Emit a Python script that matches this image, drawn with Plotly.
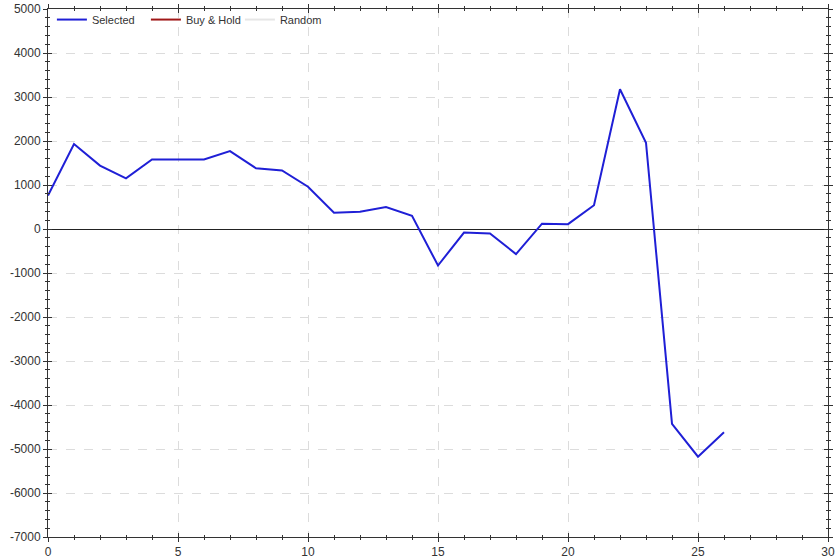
import plotly.graph_objects as go

x_vals = list(range(27))
selected = [760, 1930, 1440, 1150, 1580, 1580, 1580, 1770, 1380, 1330, 960, 370, 390, 500, 300,
            -830, -80, -100, -570, 120, 110, 540, 3175, 1960, -4430, -5175, -4620]
buy_hold = [None]
random_vals = [None]
y_ticks = list(range(-7000, 5001, 1000))
y_tick_text = [str(v) for v in y_ticks]  # plain hyphen minus like the reference
x_ticks = [0, 5, 10, 15, 20, 25, 30]

font_fam = "Liberation Sans, Arial, sans-serif"

fig = go.Figure()
fig.add_trace(go.Scatter(x=x_vals, y=selected, mode="lines", name="Selected",
                         line=dict(color="#1f1fd6", width=2)))
fig.add_trace(go.Scatter(x=buy_hold, y=buy_hold, mode="lines", name="Buy & Hold",
                         line=dict(color="#a01818", width=2)))
fig.add_trace(go.Scatter(x=random_vals, y=random_vals, mode="lines", name="Random",
                         line=dict(color="#e6e6e6", width=2)))

H, T, B = 559, 4, 22
ytop_dom = 1 - (9 - T) / (H - T - B)

grid = dict(showgrid=True, gridcolor="#dcdcdc", griddash="dash", gridwidth=1)
fig.update_layout(
    width=840, height=H,
    margin=dict(l=48, r=12, t=T, b=B),
    paper_bgcolor="white", plot_bgcolor="white",
    font=dict(family=font_fam, size=12, color="#333333"),
    showlegend=True,
    legend=dict(orientation="h", x=0.005, y=0.998, xanchor="left", yanchor="top",
                bgcolor="rgba(0,0,0,0)", font=dict(size=11, color="#333333"),
                itemwidth=30, entrywidth=49),
    xaxis=dict(range=[0, 30], tickvals=x_ticks, ticks="outside", ticklen=4, tickcolor="#333",
               showline=True, linecolor="#333", linewidth=1, mirror="ticks", automargin=False,
               minor=dict(dtick=1, tick0=0, ticks="outside", ticklen=2, tickcolor="#333", showgrid=False),
               zeroline=False, **grid),
    yaxis=dict(range=[-7000, 5000], tickvals=y_ticks, ticktext=y_tick_text, ticks="outside",
               ticklen=4, tickcolor="#333", automargin=False, domain=[0, ytop_dom],
               showline=True, linecolor="#333", linewidth=1, mirror="ticks",
               minor=dict(dtick=200, tick0=0, ticks="outside", ticklen=2, tickcolor="#333", showgrid=False),
               zeroline=True, zerolinecolor="#222", zerolinewidth=1, **grid),
    xaxis2=dict(range=[0, 30], overlaying="x", tickvals=x_ticks, ticks="inside", ticklen=4,
                tickcolor="#333", showticklabels=False, showgrid=False, zeroline=False,
                mirror="ticks", showline=False, automargin=False,
                minor=dict(dtick=1, tick0=0, ticks="inside", ticklen=2, tickcolor="#333", showgrid=False)),
    yaxis2=dict(range=[-7000, 5000], overlaying="y", tickvals=y_ticks, ticks="inside", ticklen=4,
                tickcolor="#333", showticklabels=False, showgrid=False, zeroline=False,
                mirror="ticks", showline=False, automargin=False,
                minor=dict(dtick=200, tick0=0, ticks="inside", ticklen=2, tickcolor="#333", showgrid=False)),
)
fig.add_trace(go.Scatter(x=buy_hold, y=buy_hold, xaxis="x2", yaxis="y2", showlegend=False,
                         hoverinfo="skip", mode="lines"))

fig.write_html("out.html", config={"displayModeBar": False},
               post_script="document.body.style.margin='0';document.body.style.overflow='hidden';")
